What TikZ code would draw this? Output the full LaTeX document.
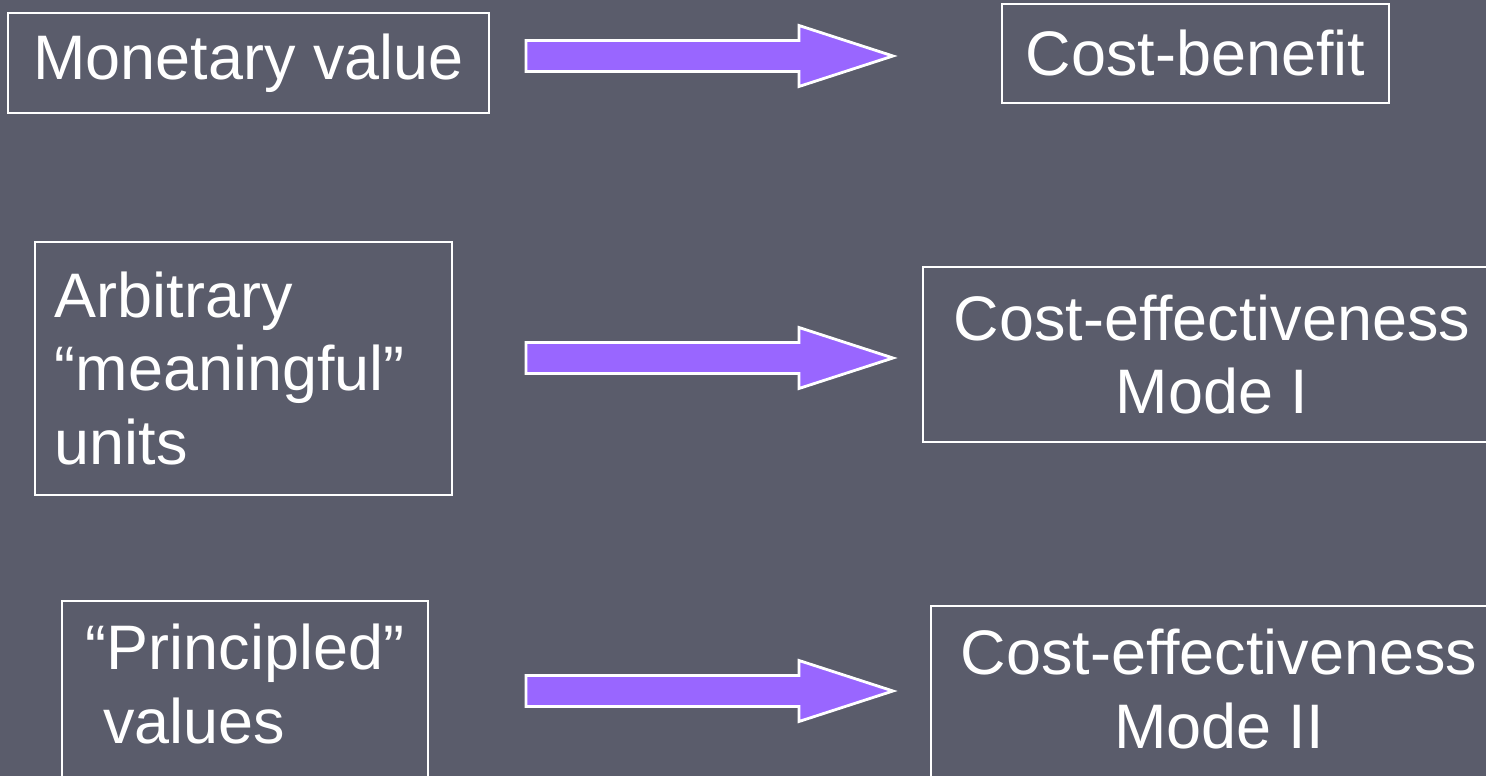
\documentclass[tikz,border=0pt]{standalone}
\usepackage{fontspec}
\setmainfont{Liberation Sans}
\usepackage{xcolor}
\usetikzlibrary{arrows.meta}
\usetikzlibrary{calc}

\definecolor{slidebg}{HTML}{5A5C6B}
\definecolor{arrowpurple}{HTML}{9966FF}

\tikzset{
  box/.style={draw=white, line width=1.3pt, text=white, inner sep=0pt,
    font=\fontsize{35.8}{42}\selectfont},
  bigarrow/.style={draw=white, line width=1.6pt, fill=arrowpurple, line join=miter},
}

\begin{document}
\begin{tikzpicture}
\useasboundingbox (0,0) rectangle (29.72,15.52);
\clip (0,0) rectangle (29.72,15.52);
\fill[slidebg] (0,0) rectangle (29.72,15.52);

%TODO faint background pattern

\node[box, minimum width=9.62cm, minimum height=2cm] (money) at (4.97,14.26) {Monetary value};
\node[box, minimum width=7.74cm, minimum height=1.98cm] (costben) at (23.91,14.45) {Cost-benefit};

\node[box, text width=7.54cm, inner xsep=0.4cm, minimum height=5.06cm, align=left] (arbunits) at (4.87,8.15) {Arbitrary\\“meaningful”\\units};
\node[box, minimum width=11.56cm, minimum height=3.5cm, align=center] (modeone) at (24.24,8.43) {Cost-effectiveness\\Mode I};

% bottom row runs off the slide
\node[box, minimum width=7.32cm, minimum height=3.7cm, text depth=0.4cm, align=left] (principled) at (4.90,1.65) {“Principled”\\\hspace*{0.28em}values};
\node[box, minimum width=11.52cm, minimum height=3.7cm, text depth=0.4cm, align=center] (modetwo) at (24.38,1.55) {Cost-effectiveness\\Mode II};

\def\shaft{5.46}
\def\headlen{1.88}

\coordinate (tail1) at (10.52,14.40);
\coordinate (tail2) at (10.52,8.36);
\coordinate (tail3) at (10.52,1.70);

\filldraw[bigarrow] (tail1) ++(0,0.31) -- ++(\shaft,0) -- ++(0,0.30) -- ++(\headlen,-0.61) -- ++(-\headlen,-0.61) -- ++(0,0.30) -- ++(-\shaft,0) -- cycle;
\filldraw[bigarrow] (tail2) ++(0,0.31) -- ++(\shaft,0) -- ++(0,0.30) -- ++(\headlen,-0.61) -- ++(-\headlen,-0.61) -- ++(0,0.30) -- ++(-\shaft,0) -- cycle;
\filldraw[bigarrow] (tail3) ++(0,0.31) -- ++(\shaft,0) -- ++(0,0.30) -- ++(\headlen,-0.61) -- ++(-\headlen,-0.61) -- ++(0,0.30) -- ++(-\shaft,0) -- cycle;

\end{tikzpicture}
\end{document}
